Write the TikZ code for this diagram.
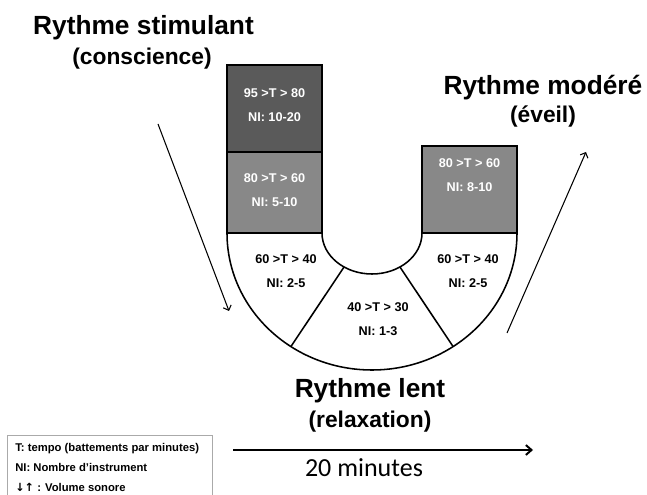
\documentclass[tikz,border=0pt]{standalone}
\usepackage{fontspec}
\setmainfont{Liberation Sans}
\newfontfamily\minfont{Carlito}
\newfontfamily\arrowfont{DejaVu Sans}
\usetikzlibrary{arrows.meta}
\definecolor{darkbox}{RGB}{90,90,90}
\definecolor{midbox}{RGB}{136,136,136}
\definecolor{framegray}{RGB}{170,170,170}
\begin{document}
\begin{tikzpicture}[x=0.025cm, y=0.025cm,
    box/.style={draw, line width=1.1pt},
    boxtext/.style={align=center, font=\bfseries\fontsize{9}{17}\selectfont},
    title/.style={anchor=base, font=\bfseries\fontsize{18.7}{20}\selectfont},
    subtitle/.style={anchor=base, font=\bfseries\fontsize{16.2}{18}\selectfont},
    timearrow/.style={-{Straight Barb[length=4pt, width=7pt]}}]
  \useasboundingbox (0,0) rectangle (647,495);
  \coordinate (U) at (372,262);
  % U shape
  \draw [box, fill=white] (227,262) arc [start angle=180, end angle=360,
    x radius=145, y radius=137] -- (422,262) arc [start angle=0,
    end angle=-180, x radius=50, y radius=41] -- cycle;
  \draw [line width=1.1pt] ([shift={(236:50 and 41)}]U) -- ([shift={(236:145 and 137)}]U);
  \draw [line width=1.1pt] ([shift={(304:50 and 41)}]U) -- ([shift={(304:145 and 137)}]U);
  % columns
  \draw [box, fill=darkbox] (227,343) rectangle (322,430);
  \draw [box, fill=midbox] (227,262) rectangle (322,343);
  \draw [box, fill=midbox] (422,262) rectangle (517,349);
  \node [boxtext, white] (fast) at (274.5,390) {95 >T > 80\\NI: 10-20};
  \node [boxtext, white] (upleft) at (274.5,305) {80 >T > 60\\NI: 5-10};
  \node [boxtext, white] (upright) at (469.5,320) {80 >T > 60\\NI: 8-10};
  \node [boxtext] (lowleft) at (286,223.5) {60 >T > 40\\NI: 2-5};
  \node [boxtext] (lowright) at (468,223.5) {60 >T > 40\\NI: 2-5};
  \node [boxtext] (slow) at (378,176) {40 >T > 30\\NI: 1-3};
  % titles
  \node [title] (stim) at (143.5,460) {Rythme stimulant};
  \node [subtitle] (stimsub) at (142,430) {(conscience)};
  \node [title] (mod) at (543,400) {Rythme modéré};
  \node [subtitle] (modsub) at (543,372) {(éveil)};
  \node [title] (lent) at (370,97) {Rythme lent};
  \node [subtitle] (lentsub) at (370,67) {(relaxation)};
  % arrows
  \coordinate (downstart) at (158,371);
  \coordinate (downend) at (229,184);
  \coordinate (upstart) at (507,162);
  \coordinate (upend) at (586,343);
  \draw [-{Straight Barb[length=3pt, width=6pt]}, line width=.75pt] (downstart) -- (downend);
  \draw [-{Straight Barb[length=3pt, width=6pt]}, line width=.75pt] (upstart) -- (upend);
  \coordinate (tstart) at (233,45);
  \coordinate (tend) at (533,45);
  \draw [timearrow, line width=1.4pt] (tstart) -- (tend);
  \node [anchor=base, font=\minfont\fontsize{18.5}{20}\selectfont] (mins) at (364,18) {20 minutes};
  % legend
  \draw [framegray, line width=.6pt] (7,0) |- (212,60) -- (212,0);
  \node [anchor=north west, align=left, inner sep=0pt,
    font=\bfseries\fontsize{8}{14.2}\selectfont] (legend) at (15,52)
    {T: tempo (battements par minutes)\\NI: Nombre d’instrument\\{\arrowfont ↓↑} : Volume sonore};
\end{tikzpicture}
\end{document}
